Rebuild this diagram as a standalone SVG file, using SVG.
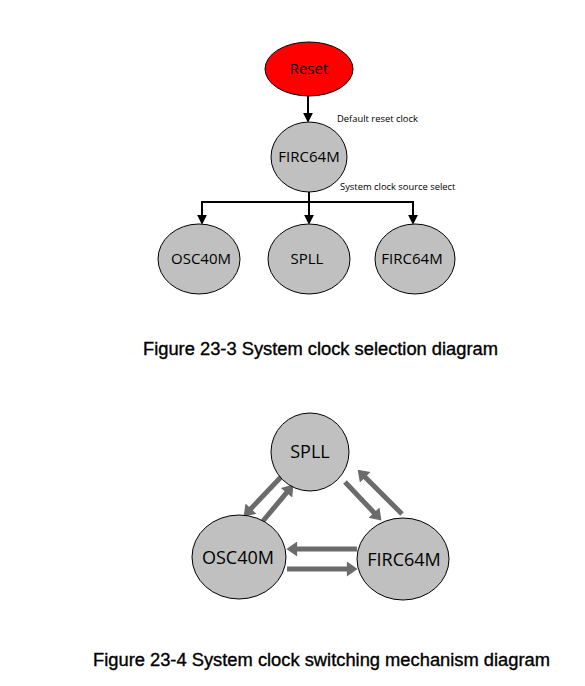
<svg xmlns="http://www.w3.org/2000/svg" width="585" height="686" viewBox="0 0 585 686">
<style>
.node{fill:#c0c0c0;stroke:#000;stroke-width:1}
.lbl{font-family:"Open Sans","Liberation Sans",sans-serif;fill:#000;text-anchor:middle}
.l1{font-size:15px}
.l2{font-size:18px}
.note{font-family:"Open Sans","Liberation Sans",sans-serif;font-size:9.4px;fill:#000}
.cap{font-family:"Liberation Sans",Arial,sans-serif;font-size:17.5px;fill:#000;stroke:#000;stroke-width:0.35}
.blk{stroke:#000;stroke-width:2;fill:none}
.gry{stroke:#6b6b6b;stroke-width:5;fill:none}
</style>
<defs>
<marker id="ah" markerUnits="userSpaceOnUse" markerWidth="10" markerHeight="10" refX="2" refY="4.5" orient="auto" viewBox="0 0 9 9">
<path d="M0,0 L9,4.5 L0,9 z" fill="#000"/>
</marker>
<marker id="gh" markerUnits="userSpaceOnUse" markerWidth="12" markerHeight="15" refX="2" refY="7" orient="auto" viewBox="0 0 10 14">
<path d="M0,0 L10,7 L0,14 z" fill="#6b6b6b"/>
</marker>
</defs>
<rect width="585" height="686" fill="#fff"/>

<g id="connectors">
<line class="blk" x1="308" y1="96" x2="308" y2="115" marker-end="url(#ah)"/>
<polyline class="blk" points="309,192 309,202"/>
<polyline class="blk" points="202,217 202,202 413,202 413,217" marker-end="url(#ah)"/>
<line class="blk" x1="202" y1="203" x2="202" y2="217" marker-end="url(#ah)"/>
<line class="blk" x1="309" y1="202" x2="309" y2="217" marker-end="url(#ah)"/>

<line class="gry" x1="281" y1="477" x2="249.5" y2="510.2" marker-end="url(#gh)"/>
<line class="gry" x1="263" y1="521" x2="287.9" y2="491.1" marker-end="url(#gh)"/>
<line class="gry" x1="345" y1="482" x2="375.5" y2="514.2" marker-end="url(#gh)"/>
<line class="gry" x1="402" y1="514" x2="363.7" y2="475.7" marker-end="url(#gh)"/>
<line class="gry" x1="357" y1="549" x2="295" y2="549" marker-end="url(#gh)"/>
<line class="gry" x1="287" y1="569" x2="349" y2="569" marker-end="url(#gh)"/>
</g>

<g id="reset">
<ellipse cx="309" cy="69" rx="44" ry="27" fill="#ff0000" stroke="#000" stroke-width="1"/>
<text class="lbl l1" x="309" y="74">Reset</text>
</g>
<g id="firc64m-top">
<ellipse class="node" cx="309" cy="157" rx="38" ry="35"/>
<text class="lbl l1" x="309" y="162">FIRC64M</text>
</g>
<g id="osc40m-1">
<ellipse class="node" cx="199" cy="259" rx="41" ry="35"/>
<text class="lbl l1" x="201" y="264">OSC40M</text>
</g>
<g id="spll-1">
<ellipse class="node" cx="309" cy="259" rx="41" ry="35"/>
<text class="lbl l1" x="307" y="264">SPLL</text>
</g>
<g id="firc64m-1">
<ellipse class="node" cx="415" cy="259" rx="40" ry="35"/>
<text class="lbl l1" x="412" y="264">FIRC64M</text>
</g>
<text class="note" x="337" y="122">Default reset clock</text>
<text class="note" x="340" y="190">System clock source select</text>
<text class="cap" x="143" y="355" textLength="355" lengthAdjust="spacingAndGlyphs">Figure 23-3 System clock selection diagram</text>

<g id="spll-2">
<ellipse class="node" cx="310" cy="452" rx="39" ry="39"/>
<text class="lbl l2" x="310" y="458">SPLL</text>
</g>
<g id="osc40m-2">
<ellipse class="node" cx="239" cy="557" rx="47" ry="42"/>
<text class="lbl l2" x="238" y="564">OSC40M</text>
</g>
<g id="firc64m-2">
<ellipse class="node" cx="403" cy="559" rx="46" ry="41"/>
<text class="lbl l2" x="404" y="566">FIRC64M</text>
</g>
<text class="cap" x="93" y="666" textLength="457" lengthAdjust="spacingAndGlyphs">Figure 23-4 System clock switching mechanism diagram</text>
</svg>
